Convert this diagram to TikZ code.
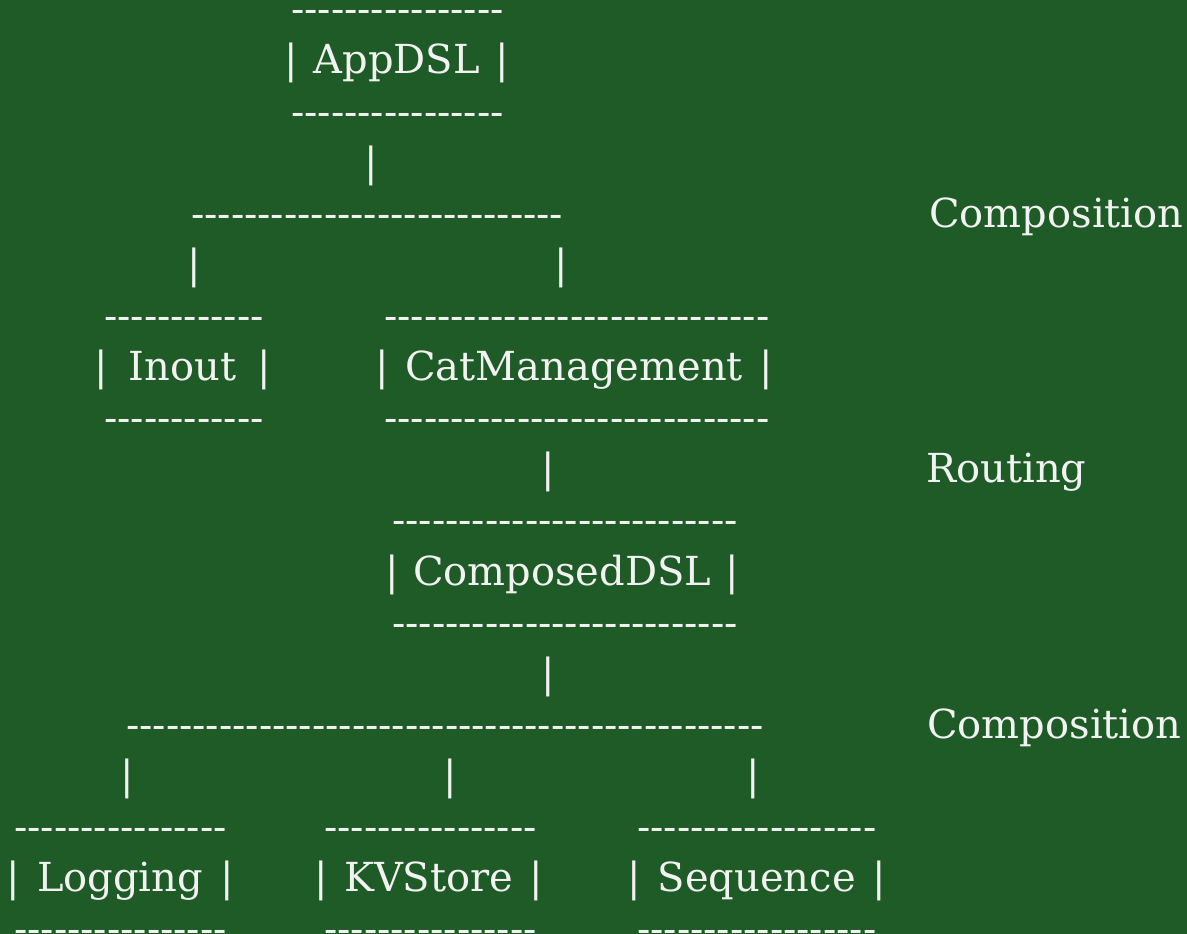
\documentclass[tikz,border=0pt]{standalone}
\usepackage{fontspec}
\setmainfont{DejaVu Serif}[Ligatures=TeXOff]
\definecolor{boardgreen}{HTML}{1F5B27}
\definecolor{chalk}{HTML}{F2F2F2}
\begin{document}
\begin{tikzpicture}[x=1pt, y=-1pt, font=\fontsize{40}{48}\selectfont]
\tikzset{txt/.style={text=chalk, anchor=base west, inner sep=0pt},
  rule/.style={txt, font=\fontsize{39.3}{48}\selectfont}}
\fill[boardgreen] (0,0) rectangle (1187,934);
\useasboundingbox (0,0) rectangle (1187,934);
% top box
\node[rule] (app-top) at (291,22.9) {----------------};
\node[txt] (app) at (284,74) {\makebox[225pt][s]{| AppDSL |}};
\node[rule] (app-bot) at (291,125.1) {----------------};
\node[txt] (app-bar) at (364,176.2) {|};
\node[rule] (split-a) at (191,227.3) {----------------------------};
\node[txt] (comp-a) at (929,227.3) {Composition};
\node[txt] (bar-inout) at (187,278.4) {|};
\node[txt] (bar-cat) at (554,278.4) {|};
% second level
\node[rule] (inout-top) at (104,329.5) {------------};
\node[rule] (cat-top) at (384,329.5) {-----------------------------};
\node[txt] (inout) at (94,380.6) {\makebox[177pt][s]{| Inout |}};
\node[txt] (cat) at (375,380.6) {\makebox[398pt][s]{| CatManagement |}};
\node[rule] (inout-bot) at (104,431.7) {------------};
\node[rule] (cat-bot) at (384,431.7) {-----------------------------};
\node[txt] (cat-bar) at (541,482.8) {|};
\node[txt] (routing) at (926,482.8) {Routing};
% composed
\node[rule] (cdsl-top) at (392,533.9) {--------------------------};
\node[txt] (cdsl) at (385,585) {\makebox[354pt][s]{| ComposedDSL |}};
\node[rule] (cdsl-bot) at (392,636.1) {--------------------------};
\node[txt] (cdsl-bar) at (541,687.2) {|};
\node[rule] (split-b) at (126,738.3) {------------------------------------------------};
\node[txt] (comp-b) at (927,738.3) {Composition};
\node[txt] (bar-log) at (120,789.4) {|};
\node[txt] (bar-kv) at (443,789.4) {|};
\node[txt] (bar-seq) at (746,789.4) {|};
% leaves
\node[rule] (log-top) at (14,840.5) {----------------};
\node[rule] (kv-top) at (324,840.5) {----------------};
\node[rule] (seq-top) at (637,840.5) {------------------};
\node[txt] (log) at (6,891.6) {\makebox[228pt][s]{| Logging |}};
\node[txt] (kv) at (314,891.6) {\makebox[229pt][s]{| KVStore |}};
\node[txt] (seq) at (627,891.6) {\makebox[259pt][s]{| Sequence |}};
\node[rule] (log-bot) at (14,942.7) {----------------};
\node[rule] (kv-bot) at (324,942.7) {----------------};
\node[rule] (seq-bot) at (637,942.7) {------------------};
\end{tikzpicture}
\end{document}
